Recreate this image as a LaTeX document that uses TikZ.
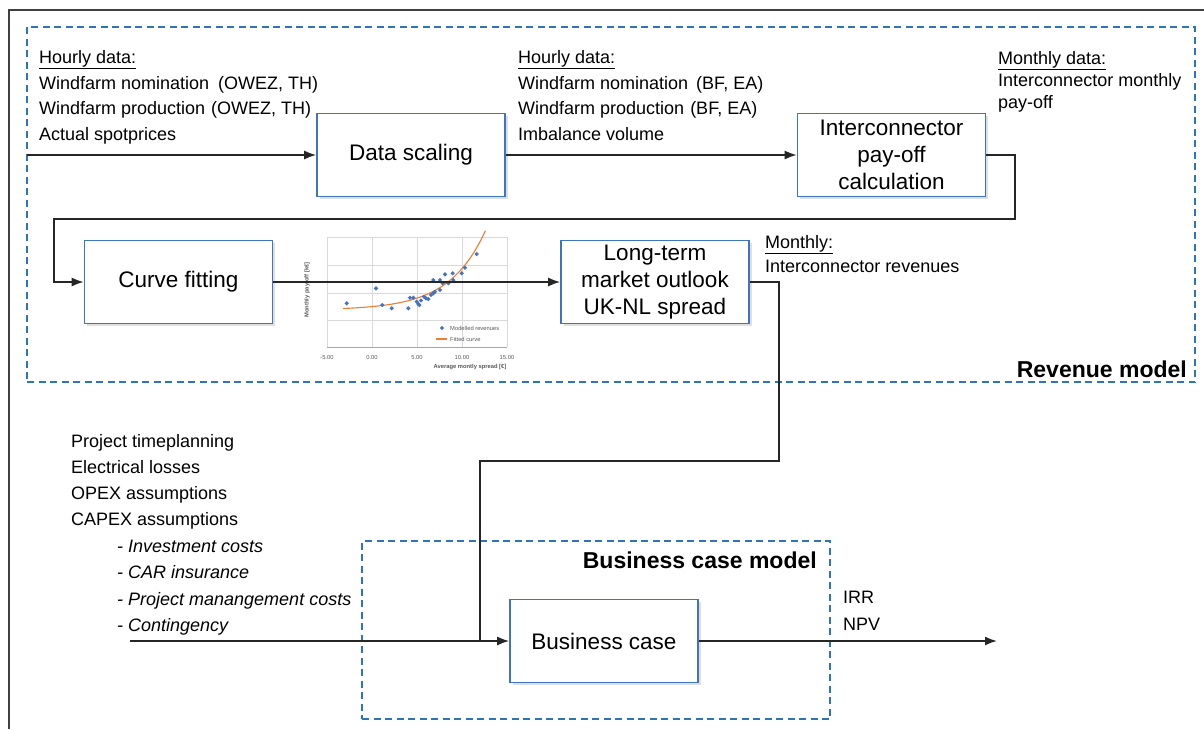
\documentclass[tikz,border=0pt]{standalone}
\usepackage{fontspec}
\setmainfont{Liberation Sans}
\usetikzlibrary{arrows.meta,shadows}
\definecolor{boxblue}{RGB}{62,117,190}
\definecolor{dashblue}{RGB}{46,117,182}
\definecolor{ptblue}{RGB}{68,114,196}
\definecolor{curveorange}{RGB}{237,125,49}
\definecolor{gridgray}{RGB}{217,217,217}
\definecolor{ticktext}{RGB}{89,89,89}
\tikzset{
  stepbox/.style={draw=boxblue, line width=1.6pt, fill=white,
    minimum width=188pt, minimum height=83pt, align=center, inner sep=0pt,
    font=\fontsize{22.5}{27}\selectfont,
    drop shadow={shadow xshift=2.5pt, shadow yshift=-2.5pt, opacity=0.25}},
  flow/.style={line width=1.7pt, black!85},
  arr/.style={flow, -{Latex[length=12pt,width=9pt]}},
  groupbox/.style={draw=dashblue, line width=1.6pt, dash pattern=on 7pt off 4.5pt,
    inner sep=0pt},
  info/.style={anchor=base west, inner sep=0pt, font=\fontsize{18}{22}\selectfont},
  subinfo/.style={info, font=\fontsize{18}{22}\selectfont\itshape},
  grouptitle/.style={anchor=base east, inner sep=0pt, font=\fontsize{23}{27}\selectfont\bfseries},
  tick/.style={inner sep=0pt, text=ticktext, font=\fontsize{5.8}{6.5}\selectfont},
  axtitle/.style={tick, font=\fontsize{5.8}{6.5}\selectfont\bfseries},
}
\begin{document}
\begin{tikzpicture}[x=1pt,y=-1pt]
\useasboundingbox (0,0) rectangle (1204,729);
\fill[white] (0,0) rectangle (1204,729);

% outer frame
\draw[line width=1.2pt, black!75] (9,729) -- (9,10) -- (1204,10);

% model groups
\node[groupbox, minimum width=1168pt, minimum height=355pt] (rev) at (611,204.5) {};
\node[grouptitle] (revtitle) at (1187,377) {Revenue model};
\node[groupbox, minimum width=468pt, minimum height=178pt] (bcm) at (596,630) {};
\node[grouptitle] (bcmtitle) at (817,568) {Business case model};

% input / output texts
\node[info] (h1a) at (39,63) {\underline{Hourly data:}};
\node[info] (h1b) at (39,89) {Windfarm nomination\hspace{9pt}(OWEZ, TH)};
\node[info] (h1c) at (39,114) {Windfarm production\hspace{6pt}(OWEZ, TH)};
\node[info] (h1d) at (39,140) {Actual spotprices};

\node[info] (h2a) at (518,63) {\underline{Hourly data:}};
\node[info] (h2b) at (518,89) {Windfarm nomination\hspace{8pt}(BF, EA)};
\node[info] (h2c) at (518,114) {Windfarm production\hspace{6pt}(BF, EA)};
\node[info] (h2d) at (518,140) {Imbalance\hspace{5pt}volume};

\node[info] (m1a) at (998,64) {\underline{Monthly data:}};
\node[info] (m1b) at (998,86) {Interconnector monthly};
\node[info] (m1c) at (998,108) {pay-off};

\node[info] (m2a) at (765,248) {\underline{Monthly:}};
\node[info] (m2b) at (765,272) {Interconnector revenues};

\node[info] (c1) at (71,447) {Project timeplanning};
\node[info] (c2) at (71,473) {Electrical losses};
\node[info] (c3) at (71,499) {OPEX assumptions};
\node[info] (c4) at (71,525) {CAPEX assumptions};
\node[subinfo] (c5) at (117,552) {- Investment costs};
\node[subinfo] (c6) at (117,578) {- CAR insurance};
\node[subinfo] (c7) at (117,605) {- Project manangement costs};
\node[subinfo] (c8) at (117,631) {- Contingency};

\node[info] (o1) at (843,603) {IRR};
\node[info] (o2) at (843,630) {NPV};

% fitted-curve chart
\begin{scope}
  \foreach \gy in {237,265,293,320}
    \draw[gridgray, line width=0.6pt] (327,\gy) -- (507,\gy);
  \foreach \gx in {327,372,417,462,507}
    \draw[gridgray, line width=0.6pt] (\gx,237) -- (\gx,347);
  \draw[black!35, line width=0.6pt] (327,347) -- (507,347);
  \draw[curveorange, line width=1.1pt]
    plot[domain=-3.2:12.6, samples=60] ({372+9*\x},{310-3.4*exp(0.25*\x)});
  \foreach \px/\py in {346.7/303.3, 376/288.3, 382.3/305, 391.7/308.3,
      408.3/308.3, 410/297.7, 413.3/297.7, 416.7/301.7, 418.3/304, 419.3/305,
      424/296.7, 426/298.3, 428.3/299, 433.3/280, 433.3/293.3, 435/291.7,
      440/290, 440/280, 442.7/283.3, 445/274.3, 448.3/283.3, 452.7/273.3,
      453.3/280, 461.7/273.3, 465/267.7, 476.7/254, 421/300.5, 431/295}
    \fill[ptblue] (\px,\py) ++(0,-2.2) -- ++(2.2,2.2) -- ++(-2.2,2.2) -- ++(-2.2,-2.2) -- cycle;
  \node[tick] (tk1) at (327,357) {-5.00};
  \node[tick] (tk2) at (372,357) {0.00};
  \node[tick] (tk3) at (417,357) {5.00};
  \node[tick] (tk4) at (462,357) {10.00};
  \node[tick] (tk5) at (507,357) {15.00};
  \node[axtitle] (xtitle) at (470,367) {Average montly spread [€]};
  \node[axtitle, rotate=90] (ytitle) at (307,290) {Monthly pay-off [k€]};
  \fill[ptblue] (442,328) ++(0,-2.2) -- ++(2.2,2.2) -- ++(-2.2,2.2) -- ++(-2.2,-2.2) -- cycle;
  \node[tick, anchor=west] (lg1) at (450,328) {Modelled revenues};
  \draw[curveorange, line width=1.1pt] (436,339) -- (447,339);
  \node[tick, anchor=west] (lg2) at (450,339) {Fitted curve};
\end{scope}

% process steps
\node[stepbox] (ds) at (411,155) {Data scaling};
\node[stepbox] (ic) at (891.5,155) {Interconnector\\pay-off\\calculation};
\node[stepbox] (cf) at (178.5,282) {Curve fitting};
\node[stepbox] (lt) at (655,282) {Long-term\\market outlook\\UK-NL spread};
\node[stepbox] (bc) at (604,641) {Business case};

% connectors
\coordinate (revin) at (27,155);
\coordinate (capin) at (130,641);
\coordinate (result) at (997,641);
\draw[arr] (revin) -- (ds.west);
\draw[arr] (ds.east) -- (ic.west);
\draw[arr] (ic.east) -| (1015,219) -| (54,282) -- (cf.west);
\draw[arr] (cf.east) -- (lt.west);
\draw[flow] (lt.east) -| (779,461) -| (480,641);
\draw[arr] (capin) -- (bc.west);
\draw[arr] (bc.east) -- (result);
\end{tikzpicture}
\end{document}
